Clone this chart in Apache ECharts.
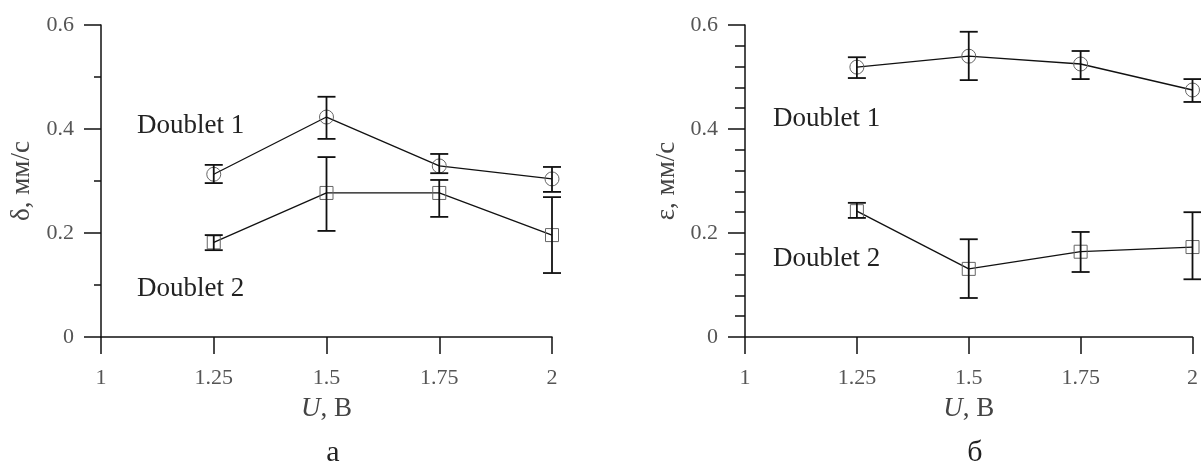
<!DOCTYPE html>
<html>
<head>
<meta charset="utf-8">
<script src="https://cdn.jsdelivr.net/npm/echarts@6/dist/echarts.min.js"></script>
<style>
  html, body { margin: 0; padding: 0; background: #fff; }
  #chart { width: 1201px; height: 471px; }
</style>
</head>
<body>
<div id="chart"></div>
<script>
var xVals = [1.25, 1.5, 1.75, 2];

// panel a: delta, mm/s
var delta1 = [0.313, 0.423, 0.329, 0.304];
var delta1Lo = [0.296, 0.381, 0.315, 0.279];
var delta1Hi = [0.331, 0.462, 0.352, 0.327];
var delta2 = [0.182, 0.277, 0.277, 0.196];
var delta2Lo = [0.167, 0.204, 0.231, 0.123];
var delta2Hi = [0.196, 0.346, 0.302, 0.269];

// panel b: epsilon, mm/s
var eps1 = [0.519, 0.540, 0.525, 0.475];
var eps1Lo = [0.498, 0.494, 0.496, 0.452];
var eps1Hi = [0.538, 0.587, 0.550, 0.496];
var eps2 = [0.242, 0.131, 0.164, 0.173];
var eps2Lo = [0.229, 0.075, 0.125, 0.111];
var eps2Hi = [0.258, 0.188, 0.202, 0.240];

var FONT = '"Liberation Serif", "DejaVu Serif", serif';

function pairs(ys) {
    return xVals.map(function (x, i) { return [x, ys[i]]; });
}
function bars(lo, hi) {
    return xVals.map(function (x, i) { return [x, lo[i], hi[i]]; });
}

function renderErr(params, api) {
    var x = api.value(0);
    var lo = api.coord([x, api.value(1)]);
    var hi = api.coord([x, api.value(2)]);
    var w = 9;
    var st = { stroke: '#111', lineWidth: 1.8 };
    return {
        type: 'group',
        children: [
            { type: 'line', shape: { x1: lo[0], y1: lo[1], x2: hi[0], y2: hi[1] }, style: st },
            { type: 'line', shape: { x1: lo[0] - w, y1: lo[1], x2: lo[0] + w, y2: lo[1] }, style: st },
            { type: 'line', shape: { x1: hi[0] - w, y1: hi[1], x2: hi[0] + w, y2: hi[1] }, style: st }
        ]
    };
}

function lineSeries(idx, ys, sym, size) {
    return {
        type: 'line',
        xAxisIndex: idx,
        yAxisIndex: idx,
        data: pairs(ys),
        symbol: sym,
        symbolSize: size,
        clip: false,
        lineStyle: { color: '#111', width: 1.3 },
        itemStyle: { color: 'rgba(0,0,0,0)', borderColor: '#666', borderWidth: 1 },
        z: 2
    };
}
function errSeries(idx, lo, hi) {
    return {
        type: 'custom',
        xAxisIndex: idx,
        yAxisIndex: idx,
        data: bars(lo, hi),
        renderItem: renderErr,
        clip: false,
        z: 3
    };
}

function xAxis(idx) {
    return {
        type: 'value',
        gridIndex: idx,
        min: 1, max: 2, interval: 0.25,
        name: '{i|U}, В',
        nameLocation: 'middle',
        nameGap: 58,
        nameTextStyle: {
            fontFamily: FONT, fontSize: 27, color: '#444',
            rich: { i: { fontFamily: FONT, fontSize: 27, fontStyle: 'italic', color: '#444' } }
        },
        axisLine: { onZero: false, lineStyle: { color: '#111', width: 1.5 } },
        axisTick: { inside: false, length: 17, lineStyle: { color: '#111', width: 1.5 } },
        axisLabel: { margin: 30, fontFamily: FONT, fontSize: 22, color: '#555',
            formatter: function (v) { return String(+v.toFixed(2)); } },
        splitLine: { show: false }
    };
}
function yAxis(idx, name, gap, minorSplit, minorLen) {
    return {
        type: 'value',
        gridIndex: idx,
        min: 0, max: 0.6, interval: 0.2,
        name: name,
        nameLocation: 'middle',
        nameGap: gap,
        nameTextStyle: { fontFamily: FONT, fontSize: 27, color: '#444' },
        axisLine: { show: true, onZero: false, lineStyle: { color: '#111', width: 1.5 } },
        axisTick: { show: true, length: 17, lineStyle: { color: '#111', width: 1.5 } },
        minorTick: { show: true, splitNumber: minorSplit, length: minorLen, lineStyle: { color: '#111', width: 1.5 } },
        axisLabel: { margin: 27, fontFamily: FONT, fontSize: 22, color: '#555',
            formatter: function (v) { return String(+v.toFixed(1)); } },
        splitLine: { show: false },
        minorSplitLine: { show: false }
    };
}

function txt(x, y, s, size, align) {
    return {
        type: 'text', x: x, y: y, silent: true,
        style: { text: s, font: size + 'px ' + FONT, fill: '#222',
            textAlign: align || 'left', textVerticalAlign: 'middle' }
    };
}

var option = {
    backgroundColor: '#fff',
    animation: false,
    grid: [
        { left: 101, top: 25, width: 451, height: 312 },
        { left: 745, top: 25, width: 450, height: 312 }
    ],
    xAxis: [xAxis(0), xAxis(1)],
    yAxis: [yAxis(0, 'δ, мм/с', 66, 2, 7), yAxis(1, 'ε, мм/с', 65, 5, 10)],
    series: [
        lineSeries(0, delta1, 'circle', 14),
        lineSeries(0, delta2, 'rect', 13),
        errSeries(0, delta1Lo, delta1Hi),
        errSeries(0, delta2Lo, delta2Hi),
        lineSeries(1, eps1, 'circle', 14),
        lineSeries(1, eps2, 'rect', 13),
        errSeries(1, eps1Lo, eps1Hi),
        errSeries(1, eps2Lo, eps2Hi)
    ],
    graphic: [
        txt(137, 126, 'Doublet 1', 27),
        txt(137, 289, 'Doublet 2', 27),
        txt(773, 119, 'Doublet 1', 27),
        txt(773, 259, 'Doublet 2', 27),
        txt(333, 453, 'а', 30, 'center'),
        txt(975, 453, 'б', 30, 'center')
    ]
};

var chart = echarts.init(document.getElementById('chart'));
chart.setOption(option);
</script>
</body>
</html>
